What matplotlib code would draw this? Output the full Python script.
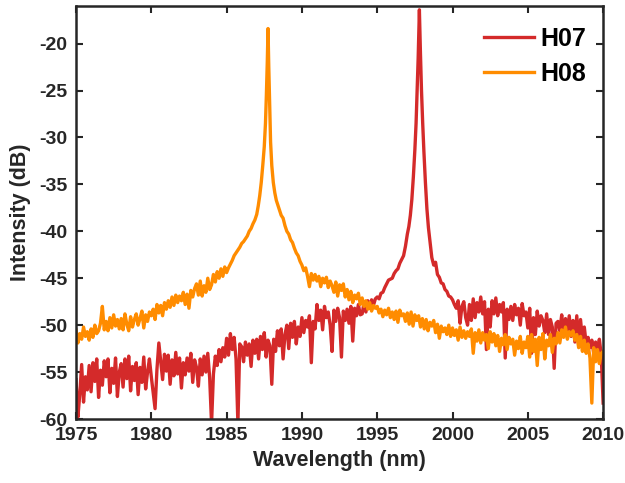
import numpy as np
import matplotlib
matplotlib.use("Agg")
import matplotlib.pyplot as plt

plt.rcParams['font.family'] = ['Liberation Sans', 'DejaVu Sans']
plt.rcParams['font.weight'] = 'bold'
plt.rcParams['axes.unicode_minus'] = False

# Background sampling grid (nm): 8 samples per nm
grid_start = 1975.0
grid_step = 0.125
PK = [None] * 8  # placeholder: peak region listed separately

# ---- H08 (orange) background values on grid, 1975.000 ... 2010.000 ----
h08_grid_vals = (
    [-50.5, -51.9, -50.9, -51.5, -50.2, -51.2, -50.7, -51.6] +   # 1975
    [-50.4, -51.3, -50.0, -50.9, -50.6, -49.8, -48.0, -50.5] +   # 1976
    [-49.6, -50.6, -49.2, -50.3, -48.9, -50.1, -49.4, -50.4] +   # 1977
    [-49.3, -50.5, -48.8, -49.9, -50.6, -49.1, -50.2, -49.4] +   # 1978
    [-48.8, -50.0, -49.3, -48.5, -50.3, -48.9, -49.6, -48.6] +   # 1979
    [-49.0, -48.3, -49.4, -47.8, -48.7, -47.9, -49.0, -47.6] +   # 1980
    [-48.3, -47.4, -48.1, -47.0, -47.9, -46.8, -47.6, -46.9] +   # 1981
    [-47.4, -46.5, -47.8, -46.7, -48.2, -46.3, -47.0, -46.1] +   # 1982
    [-45.6, -46.8, -45.3, -46.9, -45.8, -46.5, -45.0, -46.2] +   # 1983
    [-45.7, -44.6, -45.4, -44.3, -45.0, -44.0, -44.8, -43.8] +   # 1984
    [-44.4, -43.9, -43.5, -43.1, -42.6, -42.3, -42.0, -41.7] +   # 1985
    [-41.3, -41.1, -40.8, -40.5, -40.0, -39.7, -39.2, -38.8] +   # 1986
    PK + PK + PK +                                               # 1987-1989
    [-43.6, -44.2, -43.9, -44.8, -45.9, -44.5, -45.2, -44.6] +   # 1990
    [-45.3, -44.8, -45.9, -45.0, -45.5, -44.9, -46.0, -45.3] +   # 1991
    [-45.8, -46.5, -45.4, -46.9, -45.7, -46.3, -45.6, -47.0] +   # 1992
    [-46.2, -47.3, -46.4, -47.6, -46.8, -47.2, -46.6, -47.8] +   # 1993
    [-47.1, -48.0, -47.4, -48.3, -47.6, -48.5, -47.9, -48.2] +   # 1994
    [-48.0, -48.7, -48.3, -49.1, -48.4, -48.9, -48.2, -49.2] +   # 1995
    [-48.6, -49.4, -48.5, -49.7, -48.4, -49.0, -48.8, -49.6] +   # 1996
    [-48.7, -49.9, -48.6, -50.1, -48.9, -49.5, -49.0, -50.2] +   # 1997
    [-49.3, -50.4, -49.4, -50.6, -49.7, -50.1, -49.5, -50.8] +   # 1998
    [-49.9, -51.4, -50.1, -50.7, -50.3, -51.0, -50.0, -51.2] +   # 1999
    [-50.3, -51.1, -50.5, -51.6, -50.2, -51.3, -50.6, -51.4] +   # 2000
    [-50.7, -51.2, -50.4, -53.0, -50.8, -51.7, -50.5, -51.9] +   # 2001
    [-50.8, -51.6, -51.0, -52.5, -50.7, -51.8, -50.9, -52.2] +   # 2002
    [-51.1, -52.8, -51.4, -52.1, -51.0, -52.6, -51.3, -52.0] +   # 2003
    [-51.5, -53.2, -51.7, -52.5, -51.2, -53.0, -51.8, -52.4] +   # 2004
    [-51.2, -53.4, -51.0, -52.8, -51.5, -54.3, -51.3, -52.6] +   # 2005
    [-50.9, -53.6, -51.6, -52.2, -51.0, -52.9, -51.4, -52.0] +   # 2006
    [-50.8, -51.9, -50.5, -51.3, -50.2, -51.5, -50.7, -51.1] +   # 2007
    [-50.6, -51.6, -51.0, -52.4, -51.2, -52.8, -51.6, -53.0] +   # 2008
    [-52.0, -53.5, -58.3, -52.4, -53.9, -52.6, -54.1, -53.0] +   # 2009
    [-52.8]                                                      # 2010
)
h08_peak_wl = [1987.00, 1987.10, 1987.20, 1987.30, 1987.40, 1987.50, 1987.58,
               1987.64, 1987.70, 1987.75, 1987.80, 1987.86, 1987.92, 1988.00,
               1988.10, 1988.20, 1988.30, 1988.40, 1988.50, 1988.625, 1988.75,
               1988.875, 1989.00, 1989.125, 1989.25, 1989.375, 1989.50,
               1989.625, 1989.75, 1989.875]
h08_peak_vals = [-38.2, -37.3, -36.2, -34.8, -33.0, -31.0, -28.5,
                 -25.5, -22.0, -18.4, -22.5, -26.5, -30.5, -33.0,
                 -34.8, -35.9, -36.7, -37.2, -37.7, -38.3, -38.6,
                 -39.4, -40.0, -40.3, -40.9, -41.2, -41.8,
                 -42.3, -42.6, -43.2]

# ---- H07 (red) background values on grid ----
h07_grid_vals = (
    [-55.8, -59.8, -57.4, -54.2, -58.2, -55.5, -56.9, -54.3] +   # 1975
    [-57.1, -54.0, -56.0, -53.6, -57.7, -54.8, -56.4, -53.8] +   # 1976
    [-55.5, -53.6, -57.2, -54.6, -56.2, -53.5, -57.6, -55.0] +   # 1977
    [-54.1, -56.6, -53.6, -55.7, -53.3, -57.0, -54.4, -55.9] +   # 1978
    [-54.0, -57.4, -54.5, -56.1, -53.4, -56.8, -55.0, -53.6] +   # 1979
    [-55.5, -57.2, -58.9, -54.7, -51.9, -53.9, -55.8, -53.1] +   # 1980
    [-54.9, -53.2, -56.3, -53.7, -55.4, -52.9, -55.2, -53.5] +   # 1981
    [-56.7, -54.0, -55.3, -53.5, -54.9, -53.0, -56.1, -53.7] +   # 1982
    [-54.5, -56.5, -53.6, -55.3, -53.3, -55.0, -53.0, -55.6] +   # 1983
    [-60.5, -55.2, -53.3, -54.3, -52.6, -53.9, -52.4, -53.4] +   # 1984
    [-51.4, -53.2, -50.9, -52.6, -51.3, -53.6, -60.5, -52.0] +   # 1985
    [-52.3, -53.9, -51.8, -53.2, -52.0, -54.4, -51.6, -53.0] +   # 1986
    [-51.5, -53.6, -51.2, -52.6, -50.8, -53.4, -51.6, -52.2] +   # 1987
    [-56.3, -51.5, -52.8, -50.6, -52.2, -50.4, -53.6, -51.0] +   # 1988
    [-50.0, -52.5, -49.8, -51.3, -49.6, -52.0, -50.2, -51.2] +   # 1989
    [-49.2, -50.8, -49.5, -50.2, -49.0, -54.0, -49.6, -50.4] +   # 1990
    [-47.8, -49.5, -48.4, -50.5, -48.0, -49.2, -48.6, -50.0] +   # 1991
    [-52.8, -48.4, -49.6, -48.2, -49.2, -53.4, -48.5, -49.5] +   # 1992
    [-48.3, -49.8, -48.0, -51.7, -48.2, -49.0, -47.8, -48.9] +   # 1993
    [-48.8, -47.6, -48.6, -47.4, -48.2, -47.3, -47.9, -47.2] +   # 1994
    [-47.0, -47.2, -46.6, -46.5, -46.0, -45.6, -45.2, -45.1] +   # 1995
    [-45.0, -44.5, -44.2, -44.0, -43.4, -43.0, -42.6, -41.6] +   # 1996
    PK + PK + PK +                                               # 1997-1999
    [-47.3, -47.8, -48.2, -47.4, -49.8, -48.0, -47.5, -49.2] +   # 2000
    [-50.0, -47.8, -49.5, -47.2, -49.2, -47.6, -48.6, -47.0] +   # 2001
    [-48.8, -47.5, -52.6, -48.3, -50.2, -47.4, -48.8, -47.1] +   # 2002
    [-49.0, -47.8, -48.6, -47.6, -53.5, -48.3, -49.4, -48.0] +   # 2003
    [-49.5, -47.8, -48.9, -48.2, -50.0, -47.7, -49.0, -48.6] +   # 2004
    [-50.3, -48.2, -53.0, -49.2, -51.0, -48.5, -50.1, -49.0] +   # 2005
    [-49.5, -50.8, -48.8, -51.0, -49.4, -50.2, -54.6, -49.8] +   # 2006
    [-49.6, -50.6, -48.9, -51.2, -49.3, -50.8, -49.0, -51.2] +   # 2007
    [-49.5, -51.8, -49.0, -52.0, -49.4, -51.6, -50.2, -52.0] +   # 2008
    [-51.3, -52.4, -51.6, -53.0, -51.8, -52.7, -51.5, -53.2] +   # 2009
    [-58.3]                                                      # 2010
)
h07_peak_wl = [1997.00, 1997.10, 1997.20, 1997.30, 1997.40, 1997.50, 1997.58,
               1997.65, 1997.72, 1997.80, 1997.87, 1997.94, 1998.02, 1998.10,
               1998.20, 1998.30, 1998.40, 1998.50, 1998.625, 1998.75, 1998.875,
               1999.00, 1999.125, 1999.25, 1999.375, 1999.50, 1999.625,
               1999.75, 1999.875]
h07_peak_vals = [-40.3, -39.5, -38.3, -36.6, -34.2, -31.3, -28.5,
                 -25.0, -21.5, -16.4, -21.0, -25.0, -28.5, -31.5,
                 -34.8, -37.6, -39.6, -41.0, -42.8, -43.6, -43.3,
                 -44.6, -44.9, -45.5, -45.6, -46.2, -46.4,
                 -46.9, -47.0]


def assemble(grid_vals, peak_wl, peak_vals):
    wl = [grid_start + grid_step * i for i, v in enumerate(grid_vals) if v is not None]
    vals = [v for v in grid_vals if v is not None]
    wl = np.array(wl + peak_wl)
    vals = np.array(vals + peak_vals)
    order = np.argsort(wl)
    return wl[order], vals[order]


x07, y07 = assemble(h07_grid_vals, h07_peak_wl, h07_peak_vals)
x08, y08 = assemble(h08_grid_vals, h08_peak_wl, h08_peak_vals)

red = '#D42A2A'
orange = '#FF8C00'

fig = plt.figure(figsize=(6.25, 4.83), dpi=100)
ax = fig.add_axes([0.1216, 0.1325, 0.8434, 0.855])

ax.plot(x07, y07, color=red, lw=2.4, label='H07', solid_joinstyle='round')
ax.plot(x08, y08, color=orange, lw=2.4, label='H08', solid_joinstyle='round')

ax.set_xlim(1975, 2010)
ax.set_ylim(-60, -16)
ax.set_xticks(np.arange(1975, 2011, 5))
ax.set_yticks(np.arange(-60, -19, 5))
ax.tick_params(direction='in', top=True, right=True, length=5, width=1.5,
               labelsize=14, colors='#262626', labelcolor='#262626', pad=6)
for lab in ax.get_xticklabels() + ax.get_yticklabels():
    lab.set_fontweight('bold')
for s in ax.spines.values():
    s.set_linewidth(1.8)
    s.set_color('#262626')

ax.set_xlabel('Wavelength (nm)', fontsize=15.5, fontweight='bold', color='#262626', labelpad=4)
ax.set_ylabel('Intensity (dB)', fontsize=15.5, fontweight='bold', color='#262626', labelpad=6)

leg = ax.legend(loc='upper right', bbox_to_anchor=(1.013, 1.007), frameon=False,
                fontsize=18, handlelength=2.0, handletextpad=0.25,
                borderaxespad=0.55, labelspacing=0.45)
for t in leg.get_texts():
    t.set_fontweight('bold')

fig.savefig('out.png', dpi=100)
